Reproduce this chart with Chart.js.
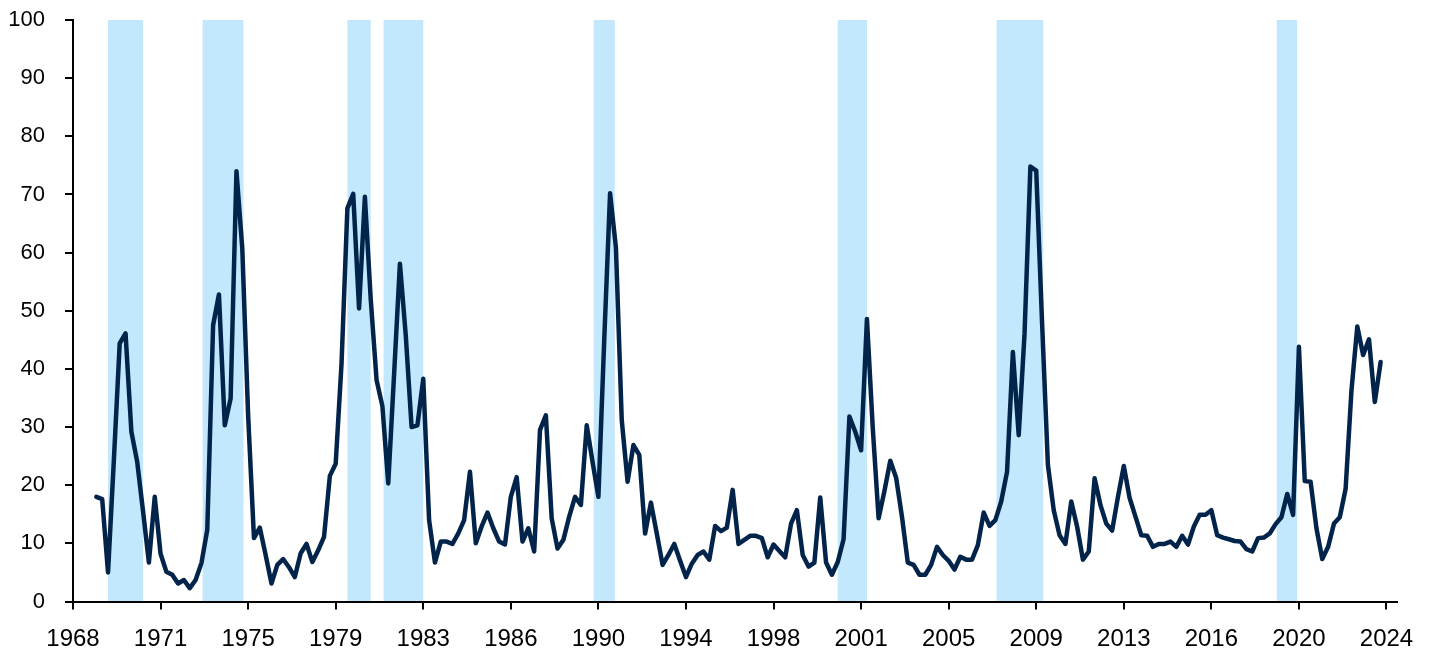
<!DOCTYPE html>
<html>
<head>
<meta charset="utf-8">
<title>Chart</title>
<script src="https://cdn.jsdelivr.net/npm/chart.js@4.4.1/dist/chart.umd.min.js"></script>
<style>
  html, body { margin: 0; padding: 0; background: #ffffff; }
  #wrap { width: 1431px; height: 653px; }
</style>
</head>
<body>
<div id="wrap"><canvas id="chart" width="1431" height="653"></canvas></div>
<script>
// quarterly series, first point is 1969 Q1
const firstYear = 1969;
const values = [
    18.0, 17.6, 5.0, 24.3,     // 1969
    44.4, 46.1, 29.2, 24.0,    // 1970
    15.5, 6.7, 18.0, 8.2,      // 1971
    5.1, 4.6, 3.1, 3.7,        // 1972
    2.3, 3.7, 6.6, 12.3,       // 1973
    47.5, 52.8, 30.3, 34.9,    // 1974
    74.0, 60.7, 32.0, 10.9,    // 1975
    12.7, 8.0, 3.1, 6.3,       // 1976
    7.3, 5.9, 4.2, 8.3,        // 1977
    9.9, 6.8, 8.8, 11.1,       // 1978
    21.6, 23.7, 40.9, 67.6,    // 1979
    70.1, 50.4, 69.6, 52.0,    // 1980
    38.1, 33.6, 20.3, 39.0,    // 1981
    58.1, 45.8, 30.0, 30.3,    // 1982
    38.3, 14.0, 6.7, 10.3,     // 1983
    10.3, 9.9, 11.7, 14.0,     // 1984
    22.3, 10.0, 12.9, 15.3,    // 1985
    12.6, 10.3, 9.8, 18.0,     // 1986
    21.4, 10.3, 12.6, 8.6,     // 1987
    29.5, 32.0, 14.3, 9.1,     // 1988
    10.6, 14.6, 18.0, 16.6,    // 1989
    30.3, 24.0, 18.0, 45.0,    // 1990
    70.2, 60.9, 31.2, 20.6,    // 1991
    26.9, 25.2, 11.7, 17.0,    // 1992
    11.7, 6.3, 8.0, 9.9,       // 1993
    7.0, 4.2, 6.5, 8.0,        // 1994
    8.6, 7.2, 13.0, 12.1,      // 1995
    12.7, 19.2, 9.9, 10.6,     // 1996
    11.3, 11.3, 10.9, 7.6,     // 1997
    9.8, 8.7, 7.6, 13.4,       // 1998
    15.7, 8.0, 6.0, 6.7,       // 1999
    17.9, 6.7, 4.6, 6.8,       // 2000
    10.7, 31.8, 29.2, 26.0,    // 2001
    48.6, 29.8, 14.3, 19.0,    // 2002
    24.2, 21.3, 14.6, 6.7,     // 2003
    6.3, 4.6, 4.6, 6.3,        // 2004
    9.4, 8.0, 7.0, 5.5,        // 2005
    7.7, 7.2, 7.2, 9.7,        // 2006
    15.3, 13.0, 14.0, 17.2,    // 2007
    22.3, 42.9, 28.6, 46.1,    // 2008
    74.8, 74.1, 48.0, 23.5,    // 2009
    15.7, 11.4, 9.9, 17.2,     // 2010
    12.9, 7.2, 8.6, 21.2,      // 2011
    16.6, 13.4, 12.2, 18.0,    // 2012
    23.3, 17.8, 14.6, 11.4,    // 2013
    11.3, 9.4, 9.9, 9.9,       // 2014
    10.3, 9.4, 11.3, 9.8,      // 2015
    12.9, 14.9, 14.9, 15.7,    // 2016
    11.4, 11.0, 10.7, 10.4,    // 2017
    10.3, 9.0, 8.6, 10.9,      // 2018
    11.0, 11.7, 13.3, 14.5,    // 2019
    18.5, 14.9, 43.8, 20.7,    // 2020
    20.6, 12.6, 7.3, 9.4,      // 2021
    13.4, 14.5, 19.4, 36.3,    // 2022
    47.3, 42.4, 45.1, 34.3,    // 2023
    41.2                       // 2024
];

// shaded recession periods, in decimal years
const recessionStart = [1969.5, 1973.55, 1979.75, 1981.3, 1990.3, 2000.75, 2007.55, 2019.55];
const recessionEnd = [1971.0, 1975.3, 1980.75, 1983.0, 1991.2, 2002.0, 2009.55, 2020.42];

// x axis: a label every 15 quarters from 1968 Q1
const tickLabels = ['1968', '1971', '1975', '1979', '1983', '1986', '1990', '1994',
    '1998', '2001', '2005', '2009', '2013', '2016', '2020', '2024'];
const tickStartYear = 1968;
const tickStepQuarters = 15;
const xMin = 1968;
const xMax = 2024.7;

const lineColor = '#03244A';
const shadeColor = '#C3E7FC';

const points = values.map((v, i) => ({ x: firstYear + i / 4, y: v }));
const tickValues = tickLabels.map((_, i) => tickStartYear + i * tickStepQuarters / 4);

// narrow font for the year labels if it is installed, otherwise a regular one
function fontInstalled(name) {
    const c = document.createElement('canvas').getContext('2d');
    c.font = '40px monospace';
    const base = c.measureText('1968 2024').width;
    c.font = "40px '" + name + "', monospace";
    return c.measureText('1968 2024').width !== base;
}
const xFont = fontInstalled('Liberation Sans Narrow')
    ? { family: "'Liberation Sans Narrow'", size: 26 }
    : { family: "'Liberation Sans', Arial, sans-serif", size: 24 };

const recessionShading = {
    id: 'recessionShading',
    beforeDraw(chart) {
        const ctx = chart.ctx;
        const area = chart.chartArea;
        const xs = chart.scales.x;
        ctx.save();
        ctx.fillStyle = shadeColor;
        recessionStart.forEach((s, i) => {
            const x1 = xs.getPixelForValue(s);
            const x2 = xs.getPixelForValue(recessionEnd[i]);
            ctx.fillRect(x1, area.top, x2 - x1, area.bottom - area.top);
        });
        ctx.restore();
    }
};

const ctx = document.getElementById('chart').getContext('2d');
const chart = new Chart(ctx, {
    type: 'line',
    data: {
        datasets: [{
            data: points,
            borderColor: lineColor,
            borderWidth: 4.5,
            borderJoinStyle: 'round',
            borderCapStyle: 'round',
            pointRadius: 0,
            tension: 0,
            fill: false
        }]
    },
    options: {
        responsive: false,
        animation: false,
        devicePixelRatio: 1,
        layout: {
            padding: { top: 20, right: 34, left: 0, bottom: 0 }
        },
        plugins: {
            legend: { display: false },
            tooltip: { enabled: false }
        },
        scales: {
            x: {
                type: 'linear',
                min: xMin,
                max: xMax,
                afterBuildTicks: (scale) => {
                    scale.ticks = tickValues.map(v => ({ value: v }));
                },
                afterFit: (scale) => {
                    scale.height = 51.5;
                    scale.paddingLeft = 0;
                    scale.paddingRight = 0;
                },
                ticks: {
                    autoSkip: false,
                    maxRotation: 0,
                    padding: 15,
                    color: '#000',
                    font: xFont,
                    callback: (value, index) => tickLabels[index]
                },
                grid: {
                    drawOnChartArea: false,
                    drawTicks: true,
                    tickLength: 8,
                    color: '#000',
                    lineWidth: 2
                },
                border: { color: '#000', width: 2 }
            },
            y: {
                min: 0,
                max: 100,
                afterFit: (scale) => {
                    scale.width = 73;
                    scale.paddingTop = 0;
                    scale.paddingBottom = 0;
                },
                ticks: {
                    stepSize: 10,
                    padding: 20,
                    color: '#000',
                    font: { family: "'Liberation Sans', Arial, sans-serif", size: 22 }
                },
                grid: {
                    drawOnChartArea: false,
                    drawTicks: true,
                    tickLength: 8,
                    color: '#000',
                    lineWidth: 2
                },
                border: { color: '#000', width: 2 }
            }
        }
    },
    plugins: [recessionShading]
});
</script>
</body>
</html>
